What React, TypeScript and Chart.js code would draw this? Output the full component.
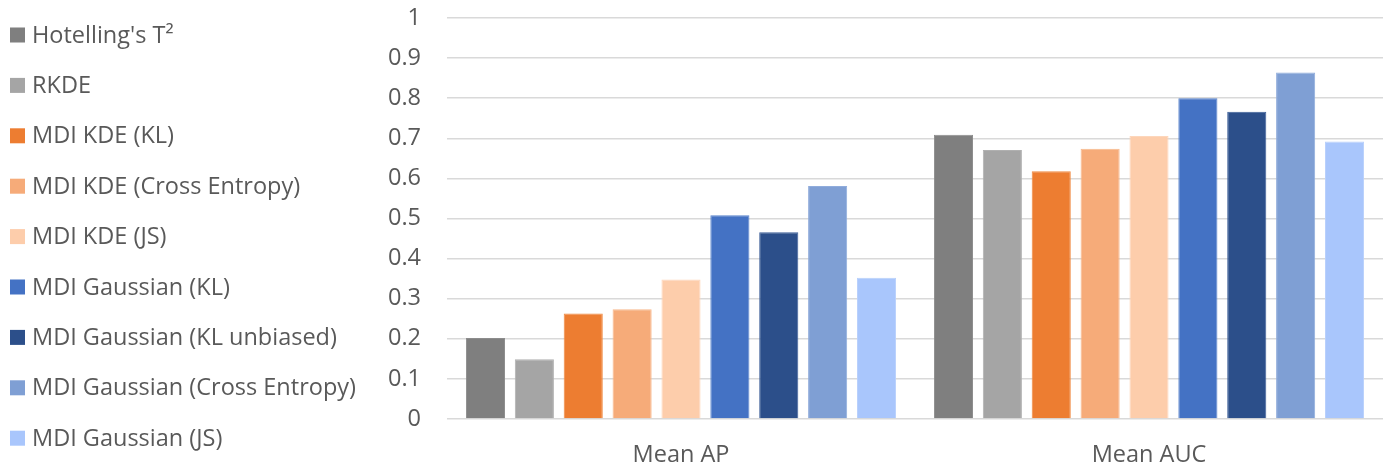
import React, { useEffect, useRef } from "react";
import { Chart, registerables } from "chart.js";

Chart.register(...registerables);

const categories = ["Mean AP", "Mean AUC"];
const seriesNames = [
  "Hotelling's T²",
  "RKDE",
  "MDI KDE (KL)",
  "MDI KDE (Cross Entropy)",
  "MDI KDE (JS)",
  "MDI Gaussian (KL)",
  "MDI Gaussian (KL unbiased)",
  "MDI Gaussian (Cross Entropy)",
  "MDI Gaussian (JS)",
];
const hotelling = [0.202, 0.709];
const rkde = [0.149, 0.671];
const kdeKL = [0.263, 0.618];
const kdeCE = [0.274, 0.674];
const kdeJS = [0.348, 0.706];
const gaussKL = [0.508, 0.8];
const gaussKLUnbiased = [0.466, 0.766];
const gaussCE = [0.581, 0.864];
const gaussJS = [0.352, 0.692];
const seriesValues = [hotelling, rkde, kdeKL, kdeCE, kdeJS, gaussKL, gaussKLUnbiased, gaussCE, gaussJS];
const colors = ["#7f7f7f", "#a5a5a5", "#ed7d31", "#f6ab79", "#fdcdab", "#4472c4", "#2c4f8a", "#7f9fd4", "#a9c6fc"];
const borderColors = ["#8c8c8c", "#b0b0b0", "#f08a42", "#f8b98c", "#fdd6bb", "#5a84cc", "#3d5f98", "#90acdc", "#b8d0fc"];

const FONT = "'Open Sans', 'Noto Sans', sans-serif";
const FONT_SIZE = 23.5;
const TEXT_COLOR = "#595959";

const leftLegend = {
  id: "leftLegend",
  afterDraw(chart: any) {
    const ctx = chart.ctx;
    const spacing = 50.4;
    const start = 35;
    ctx.save();
    ctx.font = `${FONT_SIZE}px ${FONT}`;
    ctx.textBaseline = "middle";
    ctx.textAlign = "left";
    chart.data.datasets.forEach((ds: any, i: number) => {
      const y = start + i * spacing;
      ctx.fillStyle = ds.backgroundColor;
      ctx.fillRect(10, y - 7.5, 15, 15);
      ctx.fillStyle = TEXT_COLOR;
      ctx.fillText(ds.label, 32, y + 1);
    });
    ctx.restore();
  },
};

export default function App() {
  const ref = useRef<HTMLCanvasElement | null>(null);
  useEffect(() => {
    if (!ref.current) return;
    const chart = new Chart(ref.current, {
      type: "bar",
      data: {
        labels: categories,
        datasets: seriesNames.map((name, i) => ({
          label: name,
          data: seriesValues[i],
          backgroundColor: colors[i],
          borderColor: borderColors[i],
          borderWidth: 1,
          categoryPercentage: 0.94,
          barPercentage: 0.8,
        })),
      },
      options: {
        animation: false,
        responsive: true,
        maintainAspectRatio: false,
        layout: { padding: { left: 377, right: 4, top: 18, bottom: 0 } },
        plugins: {
          legend: { display: false },
          tooltip: { enabled: false },
        },
        scales: {
          x: {
            grid: { display: false },
            border: { display: false },
            ticks: { color: TEXT_COLOR, font: { family: FONT, size: FONT_SIZE }, padding: 14 },
            afterFit: (scale: any) => {
              scale.height = 47;
            },
          },
          y: {
            min: 0,
            max: 1,
            ticks: {
              stepSize: 0.1,
              color: TEXT_COLOR,
              font: { family: FONT, size: FONT_SIZE },
              padding: 26,
              callback: (v: any) => String(Math.round(Number(v) * 10) / 10),
            },
            grid: { color: "#d9d9d9", lineWidth: 1.5, drawTicks: false },
            border: { display: false },
            afterFit: (scale: any) => {
              scale.width = 70;
              scale.paddingTop = 0;
              scale.paddingBottom = 0;
            },
          },
        },
      },
      plugins: [leftLegend],
    });
    return () => chart.destroy();
  }, []);
  return (
    <div style={{ position: "fixed", left: 0, top: 0, width: 1387, height: 466, background: "#fff" }}>
      <canvas ref={ref} />
    </div>
  );
}
